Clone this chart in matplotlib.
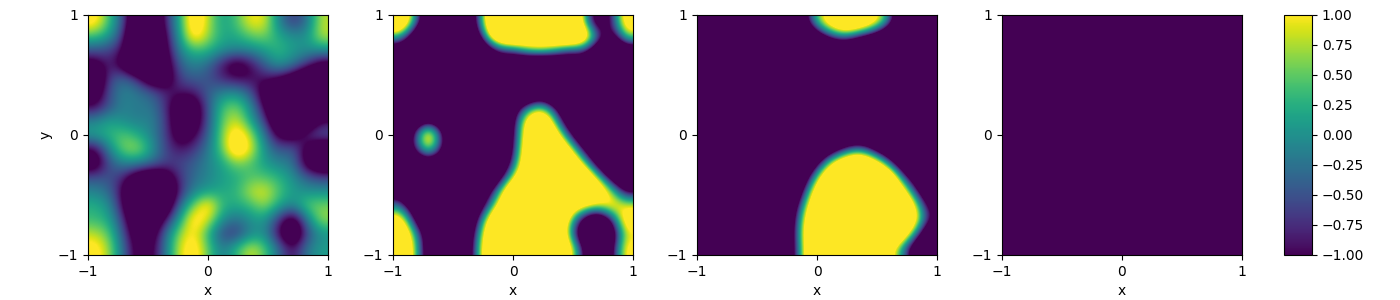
import numpy as np
import matplotlib
matplotlib.use("Agg")
import matplotlib.pyplot as plt

# field values, top row first
# (below -1 and above 1 the colours clip, so those are only estimates)
panel1 = [
    [1.2, .4, -.5, -2, -2, -.8, .2, 1.5, .8, .1, .4, 1.0, .95, -.1, -.7, -.3, .8],
    [.4, .1, -.7, -2.5, -2.5, -1.0, .1, 1.3, .7, .2, .2, .5, .6, .2, .0, .0, .8],
    [-.5, -.6, -1.0, -2.5, -2.3, -1.2, -.1, .35, .3, .0, -.1, -.1, .1, .35, .1, .0, .0],
    [-1.3, -.8, -1.3, -2.3, -2.3, -1.4, -.4, -.1, -.3, -.9, -1.4, -1.0, -.4, .05, -.2, -.7, -1.3],
    [-1.9, -.6, -.3, -.7, -1.6, -1.5, -.6, -.4, -.5, -.8, -1.0, -1.0, -.9, -1.0, -1.4, -2.0, -2.0],
    [-1.5, -.5, -.1, -.2, -.4, -.8, -.9, -.9, -.4, -.1, .0, -.4, -1.4, -2.2, -2.8, -2.8, -2.4],
    [-1.0, -.5, -.1, -.2, -.2, -.7, -1.6, -1.5, -.5, .4, .6, .0, -1.0, -2.3, -2.8, -2.5, -1.8],
    [-.1, .15, -.05, -.15, -.1, -.6, -1.6, -1.5, -.5, .5, .9, .2, -.6, -1.8, -2.2, -1.8, -1.0],
    [.15, .3, .5, .25, -.1, -.6, -1.4, -1.1, -.4, .6, 1.4, .8, -.2, -1.2, -1.3, -.7, -.4],
    [-1.1, -.1, .6, .75, .1, -.6, -.9, -.7, -.2, .5, 1.6, 1.0, .0, -.5, -.4, -1.2, -1.8],
    [-1.5, -.5, -.1, -.1, -.3, -.6, -.6, -.4, -.1, .15, .6, .45, .1, -.1, -.2, -1.3, -1.8],
    [-.5, -.5, -.8, -1.5, -1.8, -1.5, -.7, -.3, -.1, .1, .2, .45, .45, .3, .0, -.4, -.6],
    [-.1, -.3, -1.1, -2.3, -2.5, -2, -.8, -.1, .1, .2, .3, .8, .95, .45, .1, .0, .0],
    [.25, .0, -1.0, -2.3, -2.5, -1.7, -.3, .6, 1.3, .3, .2, .35, .7, .2, -.1, .5, .6],
    [.35, .2, -.7, -1.8, -1.8, -.9, .15, 1.3, .9, .0, -.3, .0, .1, -.7, -1.5, -.2, .7],
    [.8, .5, -.5, -1.5, -1.4, -.3, .7, 1.1, .3, -.6, -.7, -.1, .0, -1.0, -1.9, -.6, .0],
    [1.2, .7, -.3, -1.3, -1.2, -.2, .9, 1.3, .5, -.2, .3, .9, .5, -.3, -1.0, -.2, .1],
]

panel2 = [
    [2.7, .2, -2.3, -5, -4.5, -1.9, .8, 4, 6, 5, 5, 5.5, 3.5, .6, -2, -.9, 1.7],
    [.3, -1.7, -4, -6, -5.5, -2.7, 0, 2.7, 3.1, 2.5, 2.1, 2.8, 3.3, 2.4, -.3, -1.7, .7],
    [-1.9, -3.3, -5.7, -6, -6, -4.7, -2, -.8, -.6, .4, .9, .1, -.7, -.5, -2, -3.3, -1.9],
    [-4.3, -5.7, -6, -6, -6, -6, -4, -2.1, -2.5, -2.9, -3.5, -2.7, -2.3, -2.1, -4.3, -6, -4.7],
    [-6, -6, -6, -6, -6, -6, -6, -4.9, -5.3, -5.7, -5.1, -5.3, -5, -4.9, -6, -6, -6],
    [-6, -6, -6, -6, -6, -6, -6, -6, -4.1, -3.3, -2.3, -3.7, -6, -6, -6, -6, -6],
    [-6, -6, -3, -6, -6, -6, -6, -4.7, -1.9, -.2, .5, -.8, -3.3, -5.7, -6, -6, -6],
    [-3.5, -2, -1.2, -2, -3.5, -6, -6, -4, -1.3, 1.5, 2.8, .3, -2, -4, -6, -6, -6],
    [-2.5, -.9, 2.2, -.9, -3, -6, -6, -3.8, -1.1, 1.7, 3.9, 1.7, -.6, -2.7, -4.7, -6, -6],
    [-2.5, -1, 1.0, -1, -3, -6, -6, -3.7, -.9, 1.9, 4.3, 3.3, 1.2, -1, -3, -5, -6],
    [-3.5, -2.5, -1.8, -2.5, -3.5, -6, -6, -3, -.4, 2.1, 4.7, 4.8, 2.8, .7, -1.5, -3.7, -5.7],
    [-6, -6, -3.5, -6, -6, -6, -3.7, -1.5, .7, 2.8, 6, 6, 4.7, 2.7, .7, -1.5, -3],
    [-1.7, -3.7, -6, -6, -6, -4, -1.9, .2, 2.7, 5, 6, 6, 4.3, 3.3, 2.3, .7, -1.2],
    [-.2, -2, -4, -6, -6, -3, -1, 1.2, 3.7, 6, 6, 5, 2, 1.2, .8, 1.4, 1],
    [1.7, -1, -3, -6, -5, -2.2, .5, 3, 5.7, 6, 6, 3.3, .7, -1.4, -2.6, -.8, 1.7],
    [2.7, .4, -1.9, -4.5, -4, -1.6, 1.2, 3.7, 6, 6, 5.7, 3.1, .3, -2.4, -4.6, -1.8, .9],
    [3, .8, -1.8, -4.3, -4, -1.3, 1.5, 4, 6, 6, 6, 3.7, 1.4, -.9, -4, -1.2, 1.3],
]

panel3 = [
    [-6, -6, -6, -6, -6, -6, -4, -1.7, .5, 1.7, 2.7, 2.4, 1.5, .2, -2.6, -6, -6],
    [-6, -6, -6, -6, -6, -6, -5.9, -3.7, -1.7, -.4, 0, -.7, -1.4, -2.6, -5, -6, -6],
    [-6, -6, -6, -6, -6, -6, -6, -6, -4.7, -3.3, -2.8, -3.7, -4.7, -6, -6, -6, -6],
    [-6, -6, -6, -6, -6, -6, -6, -6, -6, -5.7, -5.6, -6, -6, -6, -6, -6, -6],
    [-6, -6, -6, -6, -6, -6, -6, -6, -6, -6, -6, -6, -6, -6, -6, -6, -6],
    [-6, -6, -6, -6, -6, -6, -6, -6, -6, -6, -6, -6, -6, -6, -6, -6, -6],
    [-6, -6, -6, -6, -6, -6, -6, -6, -6, -6, -6, -6, -6, -6, -6, -6, -6],
    [-6, -6, -6, -6, -6, -6, -6, -6, -6, -6, -5.8, -5.5, -6, -6, -6, -6, -6],
    [-6, -6, -6, -6, -6, -6, -6, -6, -5.3, -4.5, -3.1, -2.7, -3.3, -6, -6, -6, -6],
    [-6, -6, -6, -6, -6, -6, -6, -5.3, -3.3, -1.7, -.6, 0, -1, -2.3, -4.3, -6, -6],
    [-6, -6, -6, -6, -6, -6, -5.6, -3.5, -1.2, .9, 2.2, 2.9, 1.8, .1, -2, -4.3, -6],
    [-6, -6, -6, -6, -6, -6, -4.7, -2, .5, 2.7, 4.5, 5.6, 4.3, 2.7, 0, -2, -4],
    [-6, -6, -6, -6, -6, -6, -3.7, -.9, 1.7, 4.3, 6, 6, 6, 4, 1.7, -.6, -2.7],
    [-6, -6, -6, -6, -6, -5.3, -2.7, .1, 2.5, 5, 6, 6, 6, 6, 3.3, .9, -1.5],
    [-6, -6, -6, -6, -6, -4.9, -2.1, .6, 3.3, 6, 6, 6, 6, 6, 3, 1.5, -1.2],
    [-6, -6, -6, -6, -6, -4.8, -2, .8, 3.6, 6, 6, 6, 6, 3.7, 2.2, .0, -2.7],
    [-6, -6, -6, -6, -6, -4.8, -2, .6, 3.6, 6, 6, 5.3, 3.7, 1.7, .1, -2.1, -4.1],
]

panel4 = [
    [-1, -1],
    [-1, -1],
]

xticks = [-1, 0, 1]
yticks = [-1, 0, 1]
cticks = [-1, -0.75, -0.5, -0.25, 0, 0.25, 0.5, 0.75, 1]

W = 1400
H = 300
lefts = [88, 393, 697, 1002]

fig = plt.figure(figsize=(14, 3), dpi=100)

for i, z in enumerate([panel1, panel2, panel3, panel4]):
    ax = fig.add_axes([lefts[i] / W, 45 / H, 240 / W, 240 / H])
    im = ax.imshow(np.array(z, dtype=float), cmap="viridis", vmin=-1, vmax=1,
                   extent=[-1, 1, -1, 1], origin="upper", aspect="auto",
                   interpolation="bicubic", interpolation_stage="data")
    ax.set_xticks(xticks)
    ax.set_yticks(yticks)
    ax.set_xlabel("x")
    if i == 0:
        ax.set_ylabel("y")

cax = fig.add_axes([1284 / W, 45 / H, 28 / W, 240 / H])
cb = fig.colorbar(im, cax=cax)
cb.set_ticks(cticks)
cb.ax.set_yticklabels(["\u22121.00", "\u22120.75", "\u22120.50", "\u22120.25", "0.00", "0.25", "0.50", "0.75", "1.00"])

fig.savefig("out.png", dpi=100)
